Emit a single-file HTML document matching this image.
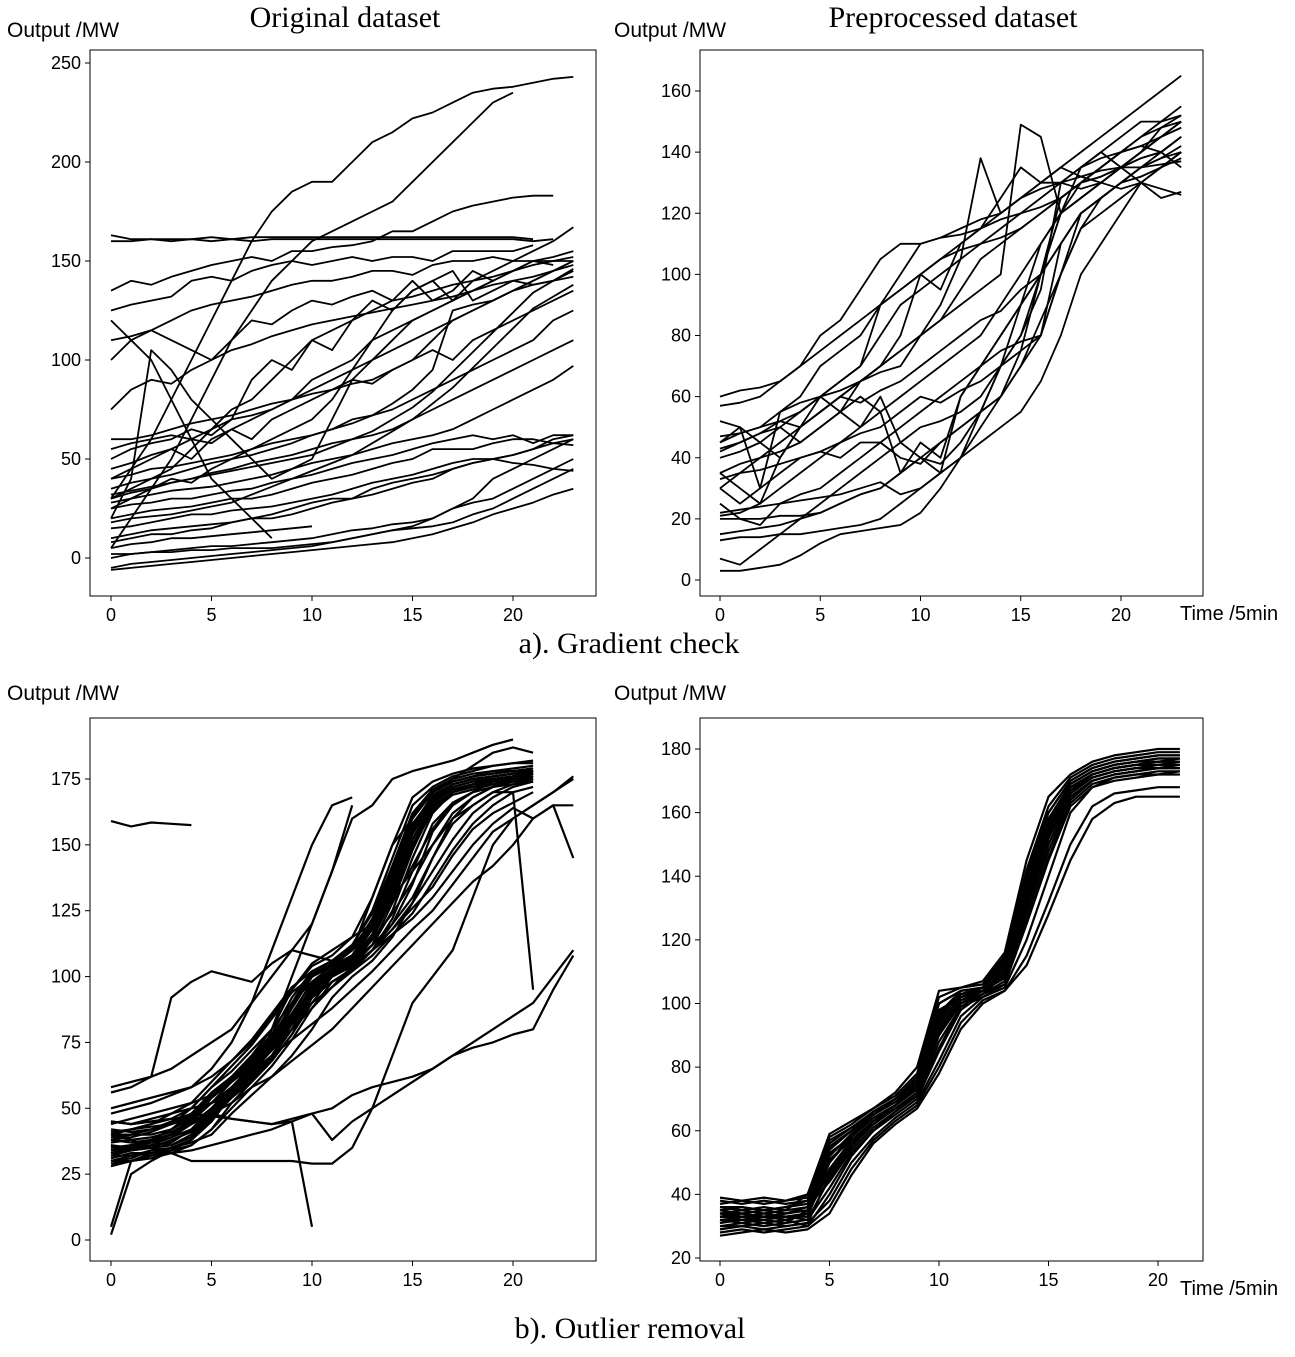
<!DOCTYPE html>
<html><head><meta charset="utf-8">
<style>
body{margin:0;background:#fff;}
svg text{font-family:"Liberation Sans",sans-serif;}
.serif{font-family:"Liberation Serif",serif;}
</style></head>
<body>
<svg id="chart" width="1295" height="1352" viewBox="0 0 1295 1352" xmlns="http://www.w3.org/2000/svg">
<text class="serif" x="345" y="27" font-size="30" text-anchor="middle">Original dataset</text>
<text class="serif" x="953" y="27" font-size="30" text-anchor="middle">Preprocessed dataset</text>
<text x="7" y="37" font-size="21">Output /MW</text>
<text x="614" y="37" font-size="21">Output /MW</text>
<text x="1180" y="620" font-size="20">Time /5min</text>
<text class="serif" x="629" y="653" font-size="30" text-anchor="middle">a). Gradient check</text>
<text x="7" y="700" font-size="21">Output /MW</text>
<text x="614" y="700" font-size="21">Output /MW</text>
<text x="1180" y="1295" font-size="20">Time /5min</text>
<text class="serif" x="630" y="1338" font-size="30" text-anchor="middle">b). Outlier removal</text>
</svg>
<script>
const xTicksA=[0,5,10,15,20];
const yTicksTL=[0,50,100,150,200,250];
const yTicksTR=[0,20,40,60,80,100,120,140,160];
const yTicksBL=[0,25,50,75,100,125,150,175];
const yTicksBR=[20,40,60,80,100,120,140,160,180];
const seriesTL=[
[163,161,161,160,161,160,161,160,161,161,161,161,161,161,161,161,161,161,161,161,161,160,161],
[160,160,161,161,161,162,161,162,162,162,162,162,162,162,162,162,162,162,162,162,162,161],
[30,45,60,80,100,120,140,160,175,185,190,190,200,210,215,222,225,230,235,237,238,240,242,243],
[5,20,35,50,70,90,110,125,140,150,160,165,170,175,180,190,200,210,220,230,235],
[135,140,138,142,145,148,150,152,150,155,155,157,158,160,165,165,170,175,178,180,182,183,183],
[125,128,130,132,140,142,140,145,148,150,148,150,152,150,152,152,150,155,155,155,155,158],
[110,112,115,120,125,128,130,132,135,138,140,140,142,145,145,143,148,150,150,152,150,150,152,155],
[100,110,115,110,105,100,110,120,118,125,130,128,132,135,130,140,130,135,145,140,145,150,148],
[75,85,90,88,95,100,105,108,112,115,118,120,122,124,126,128,130,132,135,138,140,142,145,150],
[60,60,62,65,68,70,72,75,78,80,83,85,88,90,95,100,110,120,125,130,135,140,145,148],
[50,55,58,60,65,62,70,72,75,80,85,90,95,100,105,110,115,120,125,130,135,138,140,145],
[45,48,52,55,50,60,65,60,70,75,80,85,90,88,95,100,105,100,110,115,120,125,130,135],
[40,42,45,46,48,50,52,55,58,60,62,65,70,72,75,80,85,90,95,100,105,110,120,125],
[35,38,40,42,45,48,50,52,55,58,62,65,68,72,78,85,95,125,128,130,135,140,145,150],
[30,33,35,38,40,43,45,48,50,52,55,58,60,62,65,70,75,80,85,90,95,100,105,110],
[28,30,32,34,35,36,38,40,42,45,48,50,52,55,58,60,62,65,70,75,80,85,90,97],
[25,27,28,30,30,32,34,35,38,40,42,45,48,50,52,55,58,60,62,60,62,58,62,62],
[20,22,24,25,26,28,30,30,32,35,38,40,42,45,48,50,55,55,55,58,60,60,58,57],
[15,16,18,20,22,22,24,25,26,28,30,32,35,38,40,42,45,48,50,50,48,47,45,44],
[10,12,14,15,16,17,18,20,20,22,25,28,30,35,38,40,42,45,48,50,52,55,58,60],
[5,7,8,10,10,11,12,13,14,15,16],
[0,2,3,4,5,6,6,7,8,9,10,12,14,15,17,18,20,25,28,30,35,40,45,50],
[-5,-3,-2,-1,0,1,2,3,4,5,6,8,10,12,14,15,16,18,22,25,30,35,40,45],
[-6,-5,-4,-3,-2,-1,0,1,2,3,4,5,6,7,8,10,12,15,18,22,25,28,32,35],
[2,2,3,3,4,4,5,5,5,6,7,8,10,12,14,16,20,25,30,40,45,50,55,60],
[120,110,100,80,60,40,30,20,10],
[20,40,105,95,80,70,60,50,40,45,50,70,90,100,110,120,125,130,135,140],
[30,35,40,45,55,65,75,80,90,100,110,115,120,125,130,132,135,138,140,142,145,148,150,152],
[55,58,60,62,60,65,70,90,100,95,110,105,120,130,125,135,140,145,130,135,140,138,140,142],
[40,45,50,55,60,58,65,70,75,80,90,95,100,110,115,120,125,130,140,145,150,155,160,167],
[25,30,35,40,38,45,50,55,60,65,70,80,95,110,125,135,140,130,135,140,145,150,150,150],
[8,10,12,12,14,15,18,20,22,25,28,30,30,32,35,38,40,45,48,50,52,55,60,62],
[32,34,36,38,40,42,44,46,48,50,52,56,60,64,70,76,84,94,104,114,124,134,140,146],
[18,20,21,22,24,26,28,32,36,40,44,48,52,58,64,70,78,86,96,106,116,126,132,138]
];
const seriesTR=[
[3,3,4,5,8,12,15,16,17,18,22,30,40,55,70,90,110,120,125,130,135,140,145,150],
[7,5,10,15,20,25,30,35,40,45,50,52,55,60,70,80,100,120,125,130,135,138,140,145],
[13,14,14,15,15,16,17,18,20,25,30,35,40,50,60,75,100,125,130,132,135,140,145,148],
[20,20,20,21,21,22,25,28,30,35,40,38,45,55,70,80,95,130,128,130,135,140,148,150],
[21,22,25,30,35,40,45,50,55,60,65,70,75,80,90,100,110,120,125,130,135,140,145,148],
[30,35,40,45,50,55,60,65,70,75,80,85,95,105,110,115,120,125,130,135,140,142,145,150],
[45,48,50,55,60,70,75,80,90,100,110,112,113,115,118,120,122,125,130,132,135,138,140,145],
[57,58,60,65,70,80,85,95,105,110,110,112,115,118,120,125,130,135,140,145,150,155,160,165],
[60,62,63,65,70,75,80,85,90,95,100,105,110,115,120,125,128,130,132,134,135,135,136,137],
[40,42,45,40,50,60,55,65,70,80,100,95,110,115,125,135,130,130,135,138,140,142,140,135],
[35,30,25,40,50,55,60,65,70,75,80,90,105,138,120,125,130,135,132,130,128,130,125,127],
[45,50,30,55,58,60,62,65,68,70,80,85,90,95,100,149,145,120,135,140,135,130,128,126],
[25,20,18,25,28,30,35,40,45,50,55,60,65,70,80,90,100,110,120,125,130,135,140,145],
[30,25,30,35,40,42,45,48,50,55,60,58,62,65,70,75,80,100,120,125,130,132,135,140],
[35,38,40,42,45,50,55,50,60,45,40,35,60,70,80,90,100,120,130,135,140,145,148,152],
[15,16,17,18,20,22,25,28,30,35,40,45,50,55,60,70,85,100,115,125,130,135,138,140],
[42,45,48,50,45,50,55,60,55,35,45,40,60,70,75,78,80,110,120,125,130,132,135,138],
[47,48,50,52,55,60,65,70,80,90,95,100,105,110,115,120,125,130,135,140,145,150,150,152],
[33,35,36,38,40,42,40,45,45,40,38,45,50,55,60,70,80,100,115,120,125,130,135,140],
[22,23,24,25,26,27,28,30,32,28,30,35,40,45,50,55,65,80,100,110,120,130,135,140],
[52,50,45,50,55,60,65,70,90,95,100,105,108,110,112,115,120,125,130,135,140,145,150,155],
[43,45,48,52,50,55,60,58,62,65,70,75,80,85,88,95,100,110,120,125,130,135,138,142]
];
const seriesBL=[
[30,32,33,35,38,45,55,62,70,80,95,102,106,115,130,150,165,170,172,174,175,176],
[38,37,38,40,45,55,60,68,75,88,100,104,110,120,140,160,170,174,176,178,178,179],
[33,34,35,36,40,48,56,63,70,82,92,100,105,112,125,145,162,170,173,175,176,177],
[40,40,42,44,48,56,62,70,78,92,102,106,112,125,145,165,172,176,178,180,181,181],
[28,30,31,33,36,42,50,58,66,76,88,98,103,110,120,135,155,165,170,172,174,175],
[36,35,36,37,42,50,58,64,72,85,96,102,107,116,132,152,166,171,173,174,175,176],
[45,44,45,46,50,58,64,72,80,95,104,108,115,130,150,168,174,177,179,180,181,182],
[32,32,34,35,37,40,48,55,62,70,80,92,100,106,115,128,145,160,168,172,174,176],
[34,36,38,40,44,54,60,66,74,86,98,104,108,118,136,156,168,172,174,176,177,178],
[31,33,33,34,38,46,54,60,68,78,90,100,104,112,128,148,164,170,172,173,175,176],
[42,41,42,44,46,54,60,68,76,90,102,106,112,124,142,162,170,174,176,177,178,178],
[37,38,39,41,45,52,58,66,74,84,96,102,108,120,138,158,168,173,175,176,177,178],
[29,30,32,34,36,42,52,60,68,78,92,100,104,110,122,140,158,166,170,172,173,174],
[35,36,37,39,42,50,57,64,72,82,94,101,106,116,134,154,167,171,173,174,176,177],
[39,40,40,42,46,54,60,67,75,88,100,105,110,122,142,162,171,175,177,178,179,180],
[5,30,33,35,38,45,55,62,70,82,95,102,106,115,132,152,166,171,173,175,176,177],
[2,25,30,34,38,46,56,64,72,84,96,102,107,118,135,155,167,172,174,175,176,178],
[34,35,35,36,39,47,55,61,69,80,93,101,105,114,130,149,163,169,171,173,174,175],
[41,42,43,44,47,55,61,69,77,89,101,105,111,121,141,161,170,174,176,177,178,179],
[36,34,35,38,41,49,57,65,73,83,97,103,108,119,137,157,169,173,175,176,177,177],
[33,35,37,40,46,52,60,68,76,86,94,100,104,110,118,128,140,152,162,168,172,174],
[35,36,38,42,48,55,62,70,80,90,98,102,106,112,120,130,145,158,165,170,173,175],
[30,31,34,37,42,48,55,64,74,84,92,98,102,108,116,124,136,148,158,165,170,172],
[38,39,41,44,50,58,66,74,84,94,100,104,108,114,124,136,150,162,168,172,175,177],
[32,34,36,39,44,50,58,66,74,82,90,96,102,110,118,126,134,146,156,162,166,170],
[40,42,44,48,52,60,68,76,86,96,102,106,110,118,128,142,156,166,170,174,176,178],
[58,60,62,65,70,75,80,90,100,110,120,140,160,165,175,178,180,182,185,188,190],
[56,58,62,92,98,102,100,98,105,110,108,106,110,130,150,160,170,175,180,185,187,185],
[48,50,52,55,58,65,75,90,110,130,150,165,168],
[45,44,46,48,50,52,55,60,80,100,120,140,165],
[159,157,158.5,158,157.5],
[40,38,35,33,30,30,30,30,30,30,29,29,35,50,70,90,100,110,130,150,160,165,170,175],
[30,30,32,33,34,36,38,40,42,45,48,50,55,58,60,62,65,70,73,75,78,80,95,108],
[40,42,44,46,47,48,46,45,44,46,48,38,45,50,55,60,65,70,75,80,85,90,100,110],
[45,44,45,46,46,47,46,45,44,45,5],
[50,52,54,56,58,62,68,75,85,95,105,110,115,120,130,140,150,160,165,170,170,95],
[38,40,42,45,48,52,58,64,70,76,82,88,95,102,110,118,125,135,145,155,160,165,170,176],
[33,35,38,40,44,48,52,58,62,68,74,80,88,96,104,112,120,128,136,142,150,160,165,165],
[44,46,48,50,52,55,60,66,72,80,88,96,104,110,116,122,130,140,150,158,164,160,165,145]
];
const seriesBR=[
[33,33,33,33,33,50,58,64,68,73,95,103,104,110,135,155,168,172,174,175,176,176],
[30,31,30,31,32,45,55,62,67,72,90,100,104,108,130,150,165,170,172,173,174,174],
[36,35,36,35,36,55,60,66,70,76,100,104,105,112,140,160,170,174,176,177,178,178],
[32,32,31,32,30,40,52,60,65,70,85,98,103,106,125,145,162,168,171,172,172,173],
[34,35,34,35,40,56,61,65,69,75,98,102,105,114,138,158,169,173,175,176,177,177],
[29,30,29,30,31,38,50,58,64,69,82,96,102,105,120,140,160,168,170,171,172,172],
[37,38,37,38,39,58,62,67,71,78,102,105,106,115,142,162,171,175,177,178,179,179],
[31,32,32,33,34,48,57,63,67,72,92,101,104,109,132,152,166,171,173,174,175,175],
[35,34,35,34,35,52,59,65,69,74,96,103,104,111,136,156,168,172,174,175,176,176],
[33,34,33,34,36,44,54,61,66,71,88,99,103,107,128,148,164,170,172,173,174,174],
[28,29,28,29,30,36,48,57,63,68,80,94,101,104,115,132,150,162,166,167,168,168],
[38,37,38,37,38,57,61,66,70,77,100,104,105,113,140,160,170,174,176,177,178,178],
[32,31,32,31,35,53,58,64,68,74,94,102,104,110,134,154,167,172,174,175,175,176],
[34,33,34,33,32,42,53,60,66,71,86,99,102,106,126,146,163,169,171,172,173,173],
[36,36,35,36,38,55,60,66,70,75,97,103,105,112,137,157,169,173,175,176,177,177],
[30,30,31,30,31,46,56,62,67,71,91,100,104,108,130,150,165,170,172,173,174,174],
[35,36,35,36,37,50,59,64,68,74,96,102,104,110,135,156,168,172,174,175,176,176],
[27,28,29,28,29,34,46,56,62,67,78,92,100,104,112,128,145,158,163,165,165,165],
[39,38,39,38,40,59,63,67,72,80,104,105,107,116,145,165,172,176,178,179,180,180],
[33,32,33,32,34,47,57,63,68,73,93,101,104,109,131,152,166,171,173,174,175,175],
[31,33,32,33,33,51,57,62,67,72,92,100,103,109,133,153,167,171,173,174,174,175],
[34,34,33,34,35,54,60,65,70,75,97,104,105,112,138,158,169,173,175,176,176,177]
];
const NS='http://www.w3.org/2000/svg';
const svg=document.getElementById('chart');
function mk(tag,attrs,parent){const e=document.createElementNS(NS,tag);for(const k in attrs)e.setAttribute(k,attrs[k]);(parent||svg).appendChild(e);return e;}
function panel(key,box,xDom,yDom,xTicks,yTicks,series,sw){
  const g=mk('g',{});
  
  
  const [L,T,R,B]=box;
  const xS=v=>box[4]+(v-xDom[0])*(box[5]-box[4])/(xDom[1]-xDom[0]);
  const yS=v=>box[6]+(v-yDom[0])*(box[7]-box[6])/(yDom[1]-yDom[0]);
  series.forEach((s,i)=>{
    const p=mk('polyline',{points:s.map((v,j)=>xS(j).toFixed(1)+','+yS(v).toFixed(1)).join(' '),fill:'none',stroke:'#000','stroke-width':sw,'stroke-linejoin':'round'},g);
    
    
  });
  const fr=mk('rect',{x:L,y:T,width:R-L,height:B-T,fill:'none',stroke:'#000','stroke-width':1},g);
  
  
  xTicks.forEach(t=>{
    mk('line',{x1:xS(t),x2:xS(t),y1:B,y2:B+5,stroke:'#000'},g);
    const tx=mk('text',{x:xS(t),y:B+25,'font-size':18,'text-anchor':'middle'},g);
    tx.textContent=t;
    
    
  });
  yTicks.forEach(t=>{
    mk('line',{x1:L-5,x2:L,y1:yS(t),y2:yS(t),stroke:'#000'},g);
    const tx=mk('text',{x:L-9,y:yS(t)+6,'font-size':18,'text-anchor':'end'},g);
    tx.textContent=t;
    
    
  });
}
panel('a-left',[90,50,596,596,111,513,558,63],[0,20],[0,250],xTicksA,yTicksTL,seriesTL,1.8);
panel('a-right',[700,50,1203,596,720,1121,580,91],[0,20],[0,160],xTicksA,yTicksTR,seriesTR,1.8);
panel('b-left',[90,718,596,1261,111,513,1240,779],[0,20],[0,175],xTicksA,yTicksBL,seriesBL,2.2);
panel('b-right',[700,718,1203,1261,720,1158,1258,749],[0,20],[20,180],xTicksA,yTicksBR,seriesBR,2.2);
</script>
</body></html>
